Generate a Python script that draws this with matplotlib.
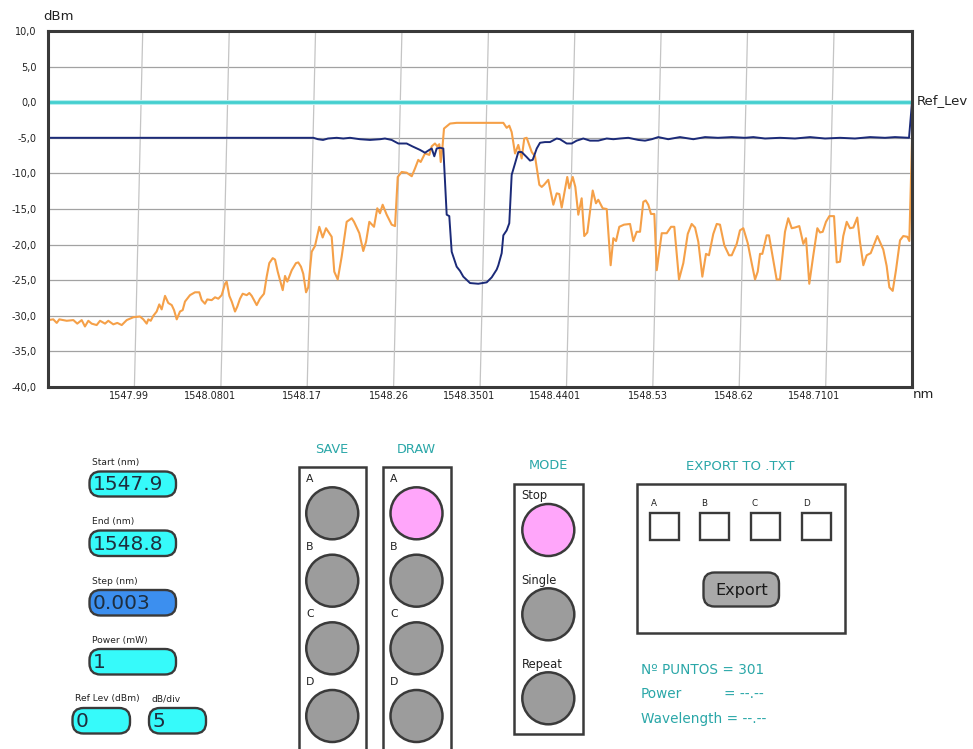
import matplotlib
matplotlib.use("Agg")
import matplotlib.pyplot as plt
from matplotlib.patches import FancyBboxPatch, Circle, Rectangle
from matplotlib.transforms import ScaledTranslation

# ---------------- sweep settings ----------------
start_nm = 1547.9
end_nm = 1548.8
step_nm = 0.003
power_mw = 1
ref_level = 0.0
db_per_div = 5
n_points = 301

x_ticks = [1547.99, 1548.0801, 1548.17, 1548.26, 1548.3501,
           1548.4401, 1548.53, 1548.62, 1548.7101]
x_tick_labels = ["1547.99", "1548.0801", "1548.17", "1548.26", "1548.3501",
                 "1548.4401", "1548.53", "1548.62", "1548.7101"]
y_ticks = [10, 5, 0, -5, -10, -15, -20, -25, -30, -35, -40]
y_tick_labels = ["10,0", "5,0", "0,0", "-5,0", "-10,0", "-15,0",
                 "-20,0", "-25,0", "-30,0", "-35,0", "-40,0"]

# ---------------- trace A (orange) ----------------
trace_a_nm = [
    1547.9003, 1547.9055, 1547.9091, 1547.9118, 1547.9195, 1547.9264, 1547.9305, 1547.9351, 1547.9385, 1547.9420,
    1547.9455, 1547.9507, 1547.9542, 1547.9594, 1547.9628, 1547.9680, 1547.9722, 1547.9768, 1547.9820, 1547.9889,
    1547.9958, 1547.9993, 1548.0028, 1548.0045, 1548.0070, 1548.0097, 1548.0132, 1548.0159, 1548.0184, 1548.0219,
    1548.0253, 1548.0289, 1548.0313, 1548.0341, 1548.0375, 1548.0403, 1548.0427, 1548.0479, 1548.0531, 1548.0576,
    1548.0601, 1548.0635, 1548.0659, 1548.0705, 1548.0740, 1548.0774, 1548.0809, 1548.0844, 1548.0861, 1548.0889,
    1548.0914, 1548.0948, 1548.0972, 1548.1000, 1548.1028, 1548.1070, 1548.1097, 1548.1122, 1548.1174, 1548.1208,
    1548.1250, 1548.1278, 1548.1305, 1548.1341, 1548.1365, 1548.1393, 1548.1417, 1548.1445, 1548.1469, 1548.1493,
    1548.1539, 1548.1583, 1548.1607, 1548.1635, 1548.1659, 1548.1688, 1548.1711, 1548.1747, 1548.1781, 1548.1826,
    1548.1861, 1548.1896, 1548.1955, 1548.1982, 1548.2018, 1548.2059, 1548.2111, 1548.2164, 1548.2188, 1548.2243,
    1548.2284, 1548.2313, 1548.2347, 1548.2396, 1548.2430, 1548.2458, 1548.2486, 1548.2528, 1548.2580, 1548.2615,
    1548.2643, 1548.2684, 1548.2736, 1548.2789, 1548.2823, 1548.2857, 1548.2882, 1548.2927, 1548.2972, 1548.2997,
    1548.3031, 1548.3055, 1548.3076, 1548.3091, 1548.3111, 1548.3125, 1548.3188, 1548.3257, 1548.3743, 1548.3778,
    1548.3805, 1548.3830, 1548.3865, 1548.3899, 1548.3934, 1548.3961, 1548.3986, 1548.4039, 1548.4073, 1548.4118,
    1548.4143, 1548.4167, 1548.4211, 1548.4264, 1548.4299, 1548.4326, 1548.4351, 1548.4409, 1548.4430, 1548.4466,
    1548.4493, 1548.4524, 1548.4559, 1548.4586, 1548.4618, 1548.4674, 1548.4708, 1548.4732, 1548.4778, 1548.4820,
    1548.4861, 1548.4889, 1548.4917, 1548.4951, 1548.5000, 1548.5063, 1548.5097, 1548.5132, 1548.5167, 1548.5201,
    1548.5226, 1548.5253, 1548.5281, 1548.5316, 1548.5341, 1548.5393, 1548.5445, 1548.5490, 1548.5524, 1548.5573,
    1548.5618, 1548.5664, 1548.5705, 1548.5740, 1548.5774, 1548.5816, 1548.5854, 1548.5885, 1548.5930, 1548.5966,
    1548.6000, 1548.6045, 1548.6094, 1548.6122, 1548.6174, 1548.6208, 1548.6243, 1548.6289, 1548.6330, 1548.6365,
    1548.6393, 1548.6417, 1548.6441, 1548.6486, 1548.6510, 1548.6555, 1548.6590, 1548.6625, 1548.6677, 1548.6711,
    1548.6747, 1548.6781, 1548.6826, 1548.6868, 1548.6896, 1548.6930, 1548.6972, 1548.7014, 1548.7042, 1548.7070,
    1548.7104, 1548.7139, 1548.7188, 1548.7216, 1548.7250, 1548.7284, 1548.7320, 1548.7354, 1548.7389, 1548.7430,
    1548.7458, 1548.7493, 1548.7528, 1548.7570, 1548.7639, 1548.7701, 1548.7736, 1548.7764, 1548.7799, 1548.7833,
    1548.7875, 1548.7909, 1548.7951, 1548.7972, 1548.8000,
]
trace_a_dbm = [
    -30.6, -30.5, -31.0, -30.5, -30.7, -30.6, -31.1, -30.6, -31.5, -30.7,
    -31.1, -31.3, -30.7, -31.1, -30.7, -31.2, -31.0, -31.3, -30.6, -30.2,
    -30.1, -30.5, -31.1, -30.5, -30.7, -30.0, -29.4, -28.4, -29.1, -27.2,
    -28.2, -28.5, -29.2, -30.5, -29.4, -29.2, -28.0, -27.1, -26.7, -26.7,
    -27.8, -28.3, -27.7, -27.8, -27.4, -27.6, -27.1, -25.5, -25.2, -27.2,
    -28.0, -29.4, -28.7, -27.6, -26.9, -27.1, -26.8, -27.2, -28.5, -27.6,
    -26.9, -24.5, -22.6, -21.9, -22.1, -23.8, -25.0, -26.4, -24.4, -25.2,
    -23.6, -22.6, -22.5, -23.1, -24.1, -26.7, -26.0, -21.0, -20.2, -17.5,
    -19.0, -17.7, -18.9, -23.8, -24.9, -21.7, -16.8, -16.3, -16.8, -18.4,
    -20.9, -19.6, -16.8, -17.5, -14.9, -15.6, -14.4, -15.8, -17.2, -17.4,
    -10.5, -9.8, -9.9, -10.4, -9.3, -8.1, -8.4, -7.2, -7.4, -6.2,
    -5.8, -6.2, -5.9, -8.4, -6.0, -3.7, -3.0, -2.9, -2.9, -3.6,
    -3.3, -4.2, -7.2, -6.0, -7.9, -5.1, -5.0, -7.0, -7.6, -11.6,
    -11.9, -11.6, -10.9, -14.4, -12.8, -12.9, -14.8, -10.5, -12.1, -10.5,
    -11.9, -15.8, -13.5, -18.8, -18.3, -12.4, -14.2, -13.7, -14.9, -15.0,
    -22.9, -19.1, -19.5, -17.5, -17.2, -17.1, -19.5, -18.2, -18.2, -14.0,
    -13.8, -14.4, -15.7, -15.7, -23.6, -18.4, -18.4, -17.5, -17.5, -24.9,
    -22.6, -18.5, -17.1, -17.6, -19.6, -24.5, -21.3, -21.5, -18.5, -17.1,
    -17.2, -20.1, -21.5, -21.5, -19.9, -18.0, -17.7, -19.8, -22.6, -24.9,
    -23.8, -21.3, -21.3, -18.7, -18.7, -22.2, -24.9, -24.9, -18.2, -16.3,
    -17.7, -17.6, -17.4, -19.9, -19.1, -25.5, -21.5, -17.7, -18.3, -18.2,
    -16.8, -16.0, -16.0, -22.5, -22.4, -18.8, -16.8, -17.7, -17.6, -16.2,
    -19.6, -22.9, -21.5, -21.2, -18.8, -20.7, -23.0, -26.0, -26.5, -23.6,
    -19.4, -18.8, -18.9, -19.5, -5.5,
]

# ---------------- trace B (navy) ----------------
trace_b_nm = [
    1547.9000, 1548.1764, 1548.1813, 1548.1865, 1548.1917, 1548.2007, 1548.2076, 1548.2146, 1548.2250, 1548.2354,
    1548.2458, 1548.2510, 1548.2580, 1548.2649, 1548.2736, 1548.2795, 1548.2875, 1548.2927, 1548.2972, 1548.2997,
    1548.3024, 1548.3049, 1548.3083, 1548.3118, 1548.3153, 1548.3180, 1548.3205, 1548.3257, 1548.3292, 1548.3326,
    1548.3365, 1548.3396, 1548.3482, 1548.3570, 1548.3622, 1548.3674, 1548.3691, 1548.3726, 1548.3743, 1548.3778,
    1548.3805, 1548.3830, 1548.3865, 1548.3899, 1548.3934, 1548.3986, 1548.4021, 1548.4049, 1548.4091, 1548.4125,
    1548.4177, 1548.4229, 1548.4299, 1548.4333, 1548.4403, 1548.4455, 1548.4507, 1548.4576, 1548.4646, 1548.4732,
    1548.4820, 1548.4889, 1548.4958, 1548.5045, 1548.5149, 1548.5219, 1548.5289, 1548.5357, 1548.5461, 1548.5583,
    1548.5722, 1548.5844, 1548.5979, 1548.6122, 1548.6260, 1548.6347, 1548.6469, 1548.6625, 1548.6781, 1548.6938,
    1548.7094, 1548.7250, 1548.7406, 1548.7563, 1548.7719, 1548.7823, 1548.7969, 1548.8000,
]
trace_b_dbm = [
    -5.0, -5.0, -5.2, -5.3, -5.1, -5.0, -5.1, -5.0, -5.2, -5.3,
    -5.2, -5.1, -5.3, -5.8, -5.8, -6.2, -6.7, -7.1, -6.7, -6.5,
    -7.6, -6.5, -6.4, -6.5, -15.8, -16.0, -21.0, -23.1, -23.7, -24.5,
    -25.0, -25.4, -25.5, -25.3, -24.6, -23.5, -22.9, -21.2, -18.7, -18.0,
    -17.0, -10.2, -8.6, -7.0, -7.0, -7.7, -8.2, -8.1, -6.5, -5.7,
    -5.6, -5.6, -5.1, -5.2, -5.8, -5.8, -5.4, -5.1, -5.4, -5.4,
    -5.1, -5.2, -5.1, -5.0, -5.3, -5.4, -5.2, -4.9, -5.2, -4.9,
    -5.2, -4.9, -5.0, -4.9, -5.0, -4.9, -5.1, -5.0, -5.1, -4.9,
    -5.1, -5.0, -5.1, -4.9, -5.0, -4.9, -5.0, 0.0,
]

# ---------------- colours ----------------
ORANGE = "#F5A048"
NAVY = "#1B2A78"
CYAN_LINE = "#44CFCF"
TEAL_TEXT = "#2AA7A8"
EDGE = "#3A3A3A"
FIELD_CYAN = "#36FAFA"
FIELD_BLUE = "#3C8FEF"
KNOB_GRAY = "#9C9C9C"
KNOB_PINK = "#FFA6FA"

W, H = 973, 749
plt.rcParams["font.family"] = ["DejaVu Sans"]
fig = plt.figure(figsize=(W / 100, H / 100), dpi=100)
fig.patch.set_facecolor("white")

# overlay in pixel units for the control panel
ov = fig.add_axes([0, 0, 1, 1])
ov.set_xlim(0, W)
ov.set_ylim(H, 0)
ov.axis("off")

# ---------------- spectrum axes ----------------
ax = fig.add_axes([48 / W, (H - 387) / H, (912 - 48) / W, (387 - 31) / H])
ax.set_xlim(start_nm, end_nm)
ax.set_ylim(-40, 10)
ax.set_facecolor("white")

for yv in y_ticks[1:-1]:
    ax.axhline(yv, color="#A2A2A2", lw=0.9, zorder=1)
lean = 0.0087
for xv in x_ticks:
    ax.plot([xv + lean, xv], [10, -40], color="#C4C4C4", lw=0.9, zorder=1)

ax.axhline(ref_level, color="#B8EEEE", lw=3.6, zorder=2)
ax.axhline(ref_level, color=CYAN_LINE, lw=2.0, zorder=3)
ax.plot(trace_a_nm, trace_a_dbm, color=ORANGE, lw=1.5, zorder=4)
ax.plot(trace_b_nm, trace_b_dbm, color=NAVY, lw=1.4, zorder=5)

for s in ax.spines.values():
    s.set_linewidth(2.2)
    s.set_color(EDGE)
    s.set_zorder(6)

ax.set_yticks(y_ticks)
ax.set_yticklabels(y_tick_labels)
ax.set_xticks(x_ticks)
ax.set_xticklabels(x_tick_labels, ha="right")
ax.tick_params(axis="both", length=0, labelsize=7, colors="#222222")
ax.tick_params(axis="y", pad=8)
ax.tick_params(axis="x", pad=3)
shift = ScaledTranslation(15 / 100, 0, fig.dpi_scale_trans)
for lab in ax.get_xticklabels():
    lab.set_transform(lab.get_transform() + shift)

ov.text(43, 16.5, "dBm", fontsize=9.5, color="#222222", va="center", ha="left")
ov.text(913, 395, "nm", fontsize=9.5, color="#222222", va="center", ha="left")
ov.text(916.5, 100.5, "Ref_Lev", fontsize=9.5, color="#222222", va="center", ha="left")


# ---------------- control panel ----------------
def field(x0, x1, y0, y1, label, value, fill, label_x=None):
    box = FancyBboxPatch((x0, y0), x1 - x0, y1 - y0,
                         boxstyle="round,pad=0,rounding_size=11",
                         fc=fill, ec=EDGE, lw=1.7)
    ov.add_patch(box)
    ov.text(label_x if label_x is not None else x0 + 2, y0 - 9, label,
            fontsize=6.6, color="#222222", va="center", ha="left")
    ov.text(x0 + 3, (y0 + y1) / 2 + 1, value, fontsize=14.5, color="#1E2E3E",
            va="center", ha="left")


field(89.5, 176, 471.5, 496.5, "Start (nm)", f"{start_nm:.1f}", FIELD_CYAN)
field(89.5, 176, 530.5, 556, "End (nm)", f"{end_nm:.1f}", FIELD_CYAN)
field(89.5, 176, 590, 615.5, "Step (nm)", f"{step_nm:.3f}", FIELD_BLUE)
field(89.5, 176, 649, 674.5, "Power (mW)", f"{power_mw}", FIELD_CYAN)
field(72.5, 130, 708, 733.5, "Ref Lev (dBm)", f"{ref_level:.0f}", FIELD_CYAN, label_x=75)
field(149, 206, 708, 733.5, "dB/div", f"{db_per_div}", FIELD_CYAN, label_x=151.5)


def column(x0, x1, y0, y1, title, title_y, names, centers, fills, label_x):
    ov.add_patch(Rectangle((x0, y0), x1 - x0, y1 - y0, fc="white", ec=EDGE, lw=1.8))
    ov.text((x0 + x1) / 2, title_y, title, fontsize=9.3, color=TEAL_TEXT,
            ha="center", va="center")
    cx = (x0 + x1) / 2
    for name, cy, fc in zip(names, centers, fills):
        ov.text(label_x, cy - 34, name, fontsize=7.8 if len(name) == 1 else 8.3,
                color="#222222", ha="left", va="center")
        ov.add_patch(Circle((cx, cy), 26, fc=fc, ec=EDGE, lw=1.8))


slots = ["A", "B", "C", "D"]
slot_y = [513.3, 580.7, 648.3, 716]
column(298.5, 366, 466.5, 770, "SAVE", 449.5, slots, slot_y,
       [KNOB_GRAY] * 4, 306)
column(382.5, 450.5, 466.5, 770, "DRAW", 449.5, slots, slot_y,
       [KNOB_PINK, KNOB_GRAY, KNOB_GRAY, KNOB_GRAY], 390)

ov.add_patch(Rectangle((513.5, 483.5), 69, 250.5, fc="white", ec=EDGE, lw=1.8))
ov.text(548, 465.5, "MODE", fontsize=9.3, color=TEAL_TEXT, ha="center", va="center")
for name, cy, fc in zip(["Stop", "Single", "Repeat"], [530, 614.3, 698.3],
                        [KNOB_PINK, KNOB_GRAY, KNOB_GRAY]):
    ov.text(521.5, cy - 34, name, fontsize=8.3, color="#222222", ha="left", va="center")
    ov.add_patch(Circle((548.3, cy), 26, fc=fc, ec=EDGE, lw=1.8))

# export block
ov.text(740.5, 466, "EXPORT TO .TXT", fontsize=9.5, color=TEAL_TEXT, ha="center", va="center")
ov.add_patch(Rectangle((637, 483.5), 208, 149, fc="white", ec=EDGE, lw=1.8))
for name, bx in zip(slots, [649.5, 700, 750.5, 801.5]):
    ov.text(bx + 1.5, 504, name, fontsize=6.3, color="#222222", ha="left", va="center")
    ov.add_patch(Rectangle((bx, 513), 29, 26.5, fc="white", ec=EDGE, lw=1.7))
ov.add_patch(FancyBboxPatch((703.5, 572.5), 75.5, 34, boxstyle="round,pad=0,rounding_size=11",
                            fc="#A9A9A9", ec=EDGE, lw=1.7))
ov.text(741.5, 590, "Export", fontsize=11.6, color="#1A1A1A", ha="center", va="center")

ov.text(641, 669.5, f"Nº PUNTOS = {n_points}", fontsize=9.8, color=TEAL_TEXT, ha="left", va="center")
ov.text(641, 694.5, "Power", fontsize=9.8, color=TEAL_TEXT, ha="left", va="center")
ov.text(724.5, 694.5, "= --.--", fontsize=9.8, color=TEAL_TEXT, ha="left", va="center")
ov.text(641, 719.5, "Wavelength = --.--", fontsize=9.8, color=TEAL_TEXT, ha="left", va="center")

fig.savefig("out.png", dpi=100, facecolor="white")
